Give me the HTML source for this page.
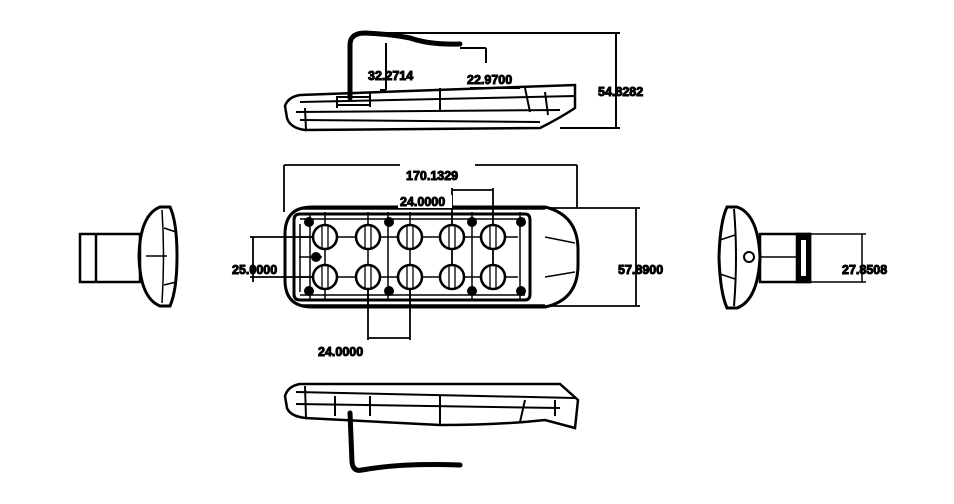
<!DOCTYPE html>
<html><head><style>
html,body{margin:0;padding:0;background:#fff;}
svg{display:block;}
text{font-family:"Liberation Sans",sans-serif;font-size:12.5px;font-weight:bold;fill:#000;}
</style></head><body>
<svg width="954" height="504" viewBox="0 0 954 504" xmlns="http://www.w3.org/2000/svg" fill="none" stroke="#000">
<!-- TOP SIDE VIEW -->
<g stroke-width="2">
<path d="M350,98 L350,45 Q350,33 365,33 Q390,34 410,38 Q430,45 460,44" stroke-width="5" stroke-linecap="round"/>
<line x1="365" y1="33" x2="620" y2="33"/>
<line x1="616" y1="33" x2="616" y2="128"/>
<line x1="560" y1="128" x2="620" y2="128"/>
<line x1="386" y1="43" x2="386" y2="90"/>
<line x1="380" y1="90" x2="386" y2="90"/>
<line x1="486" y1="48" x2="486" y2="63"/>
<line x1="460" y1="48" x2="486" y2="48"/>
<line x1="470" y1="88" x2="520" y2="88"/>
<path d="M300,95 L575,85 L575,108 Q560,118 540,128 L305,130 Q290,128 287,118 L285,106 Q288,97 300,95 Z" stroke-width="2.5"/>
<path d="M300,102 L575,96"/>
<path d="M296,112 L560,110"/>
<path d="M300,120 L540,122"/>
<line x1="337" y1="96" x2="337" y2="108"/>
<line x1="370" y1="93" x2="370" y2="107"/>
<rect x="337" y="97" width="33" height="8"/>
<line x1="440" y1="88" x2="440" y2="112"/>
<line x1="525" y1="88" x2="530" y2="112"/>
<line x1="545" y1="92" x2="548" y2="115"/>
<line x1="305" y1="108" x2="306" y2="130"/>
</g>
<text x="368" y="80">32.2714</text>
<text x="467" y="84">22.9700</text>
<text x="598" y="96">54.8282</text>

<!-- PLAN VIEW -->
<g stroke-width="1.8">
<line x1="284" y1="165" x2="400" y2="165"/>
<line x1="475" y1="165" x2="577" y2="165"/>
<line x1="284" y1="165" x2="284" y2="212"/>
<line x1="577" y1="165" x2="577" y2="208"/>
<line x1="452" y1="190" x2="493" y2="190"/>
<line x1="452" y1="188" x2="452" y2="290"/>
<line x1="493" y1="188" x2="493" y2="290"/>
<line x1="525" y1="208" x2="640" y2="208"/>
<line x1="525" y1="306" x2="640" y2="306"/>
<line x1="636" y1="208" x2="636" y2="306"/>
<line x1="250" y1="237" x2="330" y2="237"/>
<line x1="250" y1="277" x2="330" y2="277"/>
<line x1="253" y1="237" x2="253" y2="282"/>
<line x1="368" y1="277" x2="368" y2="340"/>
<line x1="410" y1="277" x2="410" y2="340"/>
<line x1="368" y1="338" x2="410" y2="338"/>
</g>
<g stroke-width="3">
<path d="M312,207 L545,207 Q578,215 578,250 L578,265 Q578,300 545,307 L312,307 Q285,307 285,280 L285,234 Q285,207 312,207 Z"/>
<path d="M300,214 L525,214 Q530,214 530,220 L530,294 Q530,300 525,300 L300,300 Q294,300 294,294 L294,220 Q294,214 300,214 Z"/>
</g>
<g stroke-width="1.5">
<line x1="300" y1="209" x2="545" y2="209"/>
<line x1="300" y1="305" x2="545" y2="305"/>
<line x1="300" y1="219" x2="525" y2="219"/>
<line x1="300" y1="295" x2="525" y2="295"/>
<path d="M545,237 L575,243 M545,277 L575,272"/>
<line x1="299" y1="257" x2="322" y2="257"/>
<line x1="300" y1="224" x2="300" y2="292"/>
<line x1="310" y1="214" x2="310" y2="300"/>
<line x1="388" y1="212" x2="388" y2="300"/>
<line x1="472" y1="212" x2="472" y2="300"/>
<line x1="520" y1="212" x2="520" y2="300"/>
<line x1="325" y1="212" x2="325" y2="300"/>
<line x1="368" y1="212" x2="368" y2="300"/>
<line x1="410" y1="212" x2="410" y2="300"/>
<line x1="300" y1="237" x2="518" y2="237"/>
<line x1="300" y1="277" x2="518" y2="277"/>
</g>
<g stroke-width="2.6" fill="#fff">
<circle cx="325" cy="237" r="12"/><circle cx="368" cy="237" r="12"/><circle cx="410" cy="237" r="12"/><circle cx="452" cy="237" r="12"/><circle cx="493" cy="237" r="12"/>
<circle cx="325" cy="277" r="12"/><circle cx="368" cy="277" r="12"/><circle cx="410" cy="277" r="12"/><circle cx="452" cy="277" r="12"/><circle cx="493" cy="277" r="12"/>
</g>
<g stroke-width="1.3">
<path d="M322,226 V248 M328,226 V248 M365,226 V248 M371,226 V248 M322,266 V288 M328,266 V288 M365,266 V288 M371,266 V288 M407,226 V248 M413,226 V248 M407,266 V288 M413,266 V288 M449,226 V248 M455,226 V248 M449,266 V288 M455,266 V288 M490,226 V248 M496,226 V248 M490,266 V288 M496,266 V288"/>
</g>
<g fill="#000" stroke="none">
<circle cx="309" cy="222" r="5"/><circle cx="309" cy="291" r="5"/><circle cx="316" cy="257" r="5"/>
<circle cx="389" cy="222" r="5"/><circle cx="389" cy="291" r="5"/>
<circle cx="472" cy="222" r="5"/><circle cx="472" cy="291" r="5"/>
<circle cx="521" cy="222" r="5"/><circle cx="521" cy="291" r="5"/>
</g>
<rect x="398" y="195" width="54" height="13" fill="#fff" stroke="none"/>
<text x="406" y="180">170.1329</text>
<text x="400" y="206">24.0000</text>
<text x="618" y="274">57.8900</text>
<text x="232" y="274">25.0000</text>
<text x="318" y="356">24.0000</text>

<!-- LEFT VIEW -->
<g stroke-width="2.5">
<rect x="80" y="234" width="60" height="48"/>
<line x1="96" y1="234" x2="96" y2="282"/>
<path d="M160,207 Q140,215 139,256 Q140,298 160,306 L170,306 Q177,290 177,256 Q177,222 170,207 Z" stroke-width="3"/>
<path d="M162,210 Q165,256 162,303" stroke-width="1.5"/>
<line x1="146" y1="256" x2="167" y2="256" stroke-width="1.5"/>
<line x1="164" y1="228" x2="176" y2="232" stroke-width="1.5"/>
<line x1="164" y1="285" x2="176" y2="282" stroke-width="1.5"/>
</g>

<!-- RIGHT VIEW -->
<g stroke-width="2.5">
<path d="M727,207 Q720,222 719,257 Q720,292 727,308 L737,308 Q758,300 760,257 Q758,214 737,207 Z" stroke-width="3"/>
<path d="M734,209 Q738,257 734,306" stroke-width="2"/>
<line x1="720" y1="240" x2="735" y2="235" stroke-width="1.5"/>
<line x1="720" y1="274" x2="735" y2="279" stroke-width="1.5"/>
<circle cx="749" cy="257" r="5" stroke-width="2"/>
<rect x="760" y="234" width="50" height="48"/>
<line x1="760" y1="257" x2="797" y2="257" stroke-width="1.5"/>
<rect x="797" y="234" width="13" height="48" fill="#000"/>
<rect x="801" y="240" width="5" height="36" fill="#fff" stroke="none"/>
<line x1="810" y1="234" x2="866" y2="234" stroke-width="1.5"/>
<line x1="810" y1="282" x2="866" y2="282" stroke-width="1.5"/>
<line x1="862" y1="234" x2="862" y2="282" stroke-width="1.5"/>
</g>
<text x="842" y="274">27.8508</text>

<!-- BOTTOM VIEW -->
<g stroke-width="2">
<path d="M300,384 L560,384 L578,400 L575,428 L545,420 Q500,425 440,425 L305,418 Q290,416 287,408 L285,396 Q288,386 300,384 Z" stroke-width="2.5"/>
<line x1="296" y1="392" x2="575" y2="398"/>
<line x1="296" y1="404" x2="560" y2="408"/>
<line x1="305" y1="386" x2="306" y2="418"/>
<line x1="335" y1="396" x2="335" y2="416"/>
<line x1="370" y1="396" x2="370" y2="416"/>
<line x1="440" y1="396" x2="440" y2="424"/>
<line x1="525" y1="400" x2="520" y2="422"/>
<line x1="555" y1="400" x2="555" y2="416"/>
<path d="M350,413 L352,462 Q353,472 362,470 Q400,463 460,465" stroke-width="5" stroke-linecap="round"/>
</g>
</svg>
</body></html>
